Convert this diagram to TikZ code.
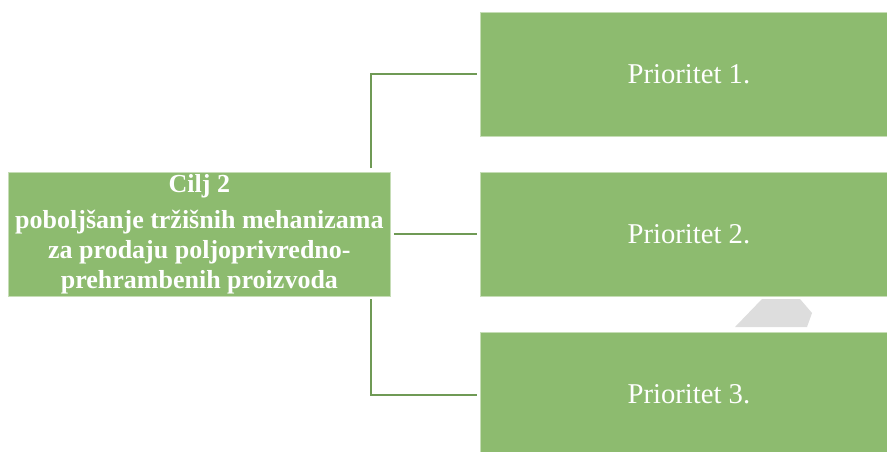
\documentclass[tikz,border=0pt]{standalone}
\usepackage{fontspec}
\setmainfont{Liberation Serif}
\usetikzlibrary{positioning}

\definecolor{boxgreen}{HTML}{8DBB6F}
\definecolor{boxedge}{HTML}{C6DDB6}
\definecolor{linkgreen}{HTML}{6F9A55}
\definecolor{tabgrey}{HTML}{DDDDDD}

\tikzset{
  goalbox/.style={fill=boxgreen, draw=boxedge, line width=0.6pt, text=white,
    minimum width=286.5pt, minimum height=93pt, align=center, inner sep=0pt,
    font=\fontsize{19.5}{22.5}\selectfont\bfseries},
  prioritybox/.style={fill=boxgreen, draw=boxedge, line width=0.6pt, text=white,
    minimum width=312.75pt, minimum height=93pt, inner sep=0pt,
    font=\fontsize{21.5}{25}\selectfont},
  link/.style={draw=linkgreen, line width=1.5pt}
}

\begin{document}
\begin{tikzpicture}[x=0.75pt, y=-0.75pt]
  \useasboundingbox (0, 0) rectangle (887, 451);
  \clip (0, 0) rectangle (887, 451);

  % goal on the left
  \node[goalbox, anchor=north west] (cilj) at (8, 172)
    {Cilj 2\\[4pt] poboljšanje tržišnih mehanizama\\ za prodaju poljoprivredno-\\ prehrambenih proizvoda};

  % priorities on the right
  \node[prioritybox, anchor=north west] (p1) at (480, 12) {Prioritet 1.};
  \node[prioritybox, anchor=north west] (p2) at (480, 172) {Prioritet 2.};
  \node[prioritybox, anchor=north west] (p3) at (480, 332) {Prioritet 3.};

  % grey tab between p2 and p3
  \fill[tabgrey] (735, 327) -- (762, 299) -- (800, 299) -- (812, 313) -- (807, 327) -- cycle;

  % connectors
  \coordinate (uptop) at (371, 168);
  \coordinate (downbot) at (371, 299);
  \draw[link] (uptop) |- ([xshift=-2.25pt]p1.west);
  \draw[link] ([xshift=2.25pt]cilj.east) -- ([xshift=-2.25pt]p2.west);
  \draw[link] (downbot) |- ([xshift=-2.25pt, yshift=-0.75pt]p3.west);
\end{tikzpicture}
\end{document}
